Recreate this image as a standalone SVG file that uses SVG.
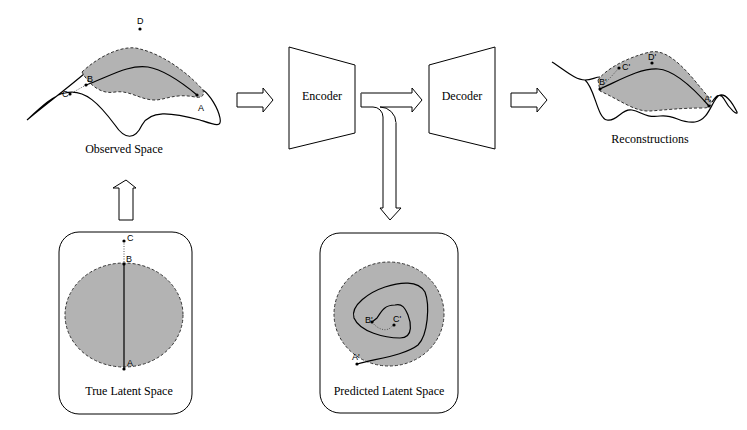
<svg xmlns="http://www.w3.org/2000/svg" width="747" height="430" viewBox="0 0 747 430">
<style>
.t{font-family:"Liberation Serif",serif;font-size:12px;fill:#000}
.s{font-family:"Liberation Sans",sans-serif;font-size:9px;fill:#000}
.ln{fill:none;stroke:#000;stroke-width:1.2}
.reg{fill:#b3b3b3;stroke:#333;stroke-width:1;stroke-dasharray:3,2}
.dot{fill:none;stroke:#555;stroke-width:1;stroke-dasharray:1,1.5}
.box{fill:#fff;stroke:#000;stroke-width:1}
.arr{fill:#fff;stroke:#000;stroke-width:1}
</style>
<rect width="747" height="430" fill="#fff"/>
<g id="observed">
<path class="ln" d="M27,120 C45,105 65,90 84,74 M27,120 C40,108 55,94 65,93 C85,88 100,105 115,125 C125,140 135,140 142,125 C150,110 170,112 200,120 C215,125 222,128 220,118 C218,108 210,95 203,90"/>
<path class="reg" d="M82,72 C100,55 125,44 140,49 C165,55 190,75 203,90 C205,97 200,98 195,97 C175,93 165,100 155,100 C140,100 130,90 115,92 C100,95 88,83 82,72 Z"/>
<path class="ln" d="M86,85 C110,76 130,64 148,67 C165,70 185,85 197,95"/>
<path class="dot" d="M86,85 L70,94"/>
<circle cx="86" cy="85" r="1.6"/><circle cx="70" cy="94" r="1.6"/><circle cx="197" cy="95" r="1.6"/><circle cx="140" cy="29" r="1.6"/>
<text class="s" x="87" y="82">B</text><text class="s" x="62" y="97">C</text><text class="s" x="198" y="111">A</text><text class="s" x="137" y="24">D</text>
<text class="t" x="124" y="153" text-anchor="middle">Observed Space</text>
</g>
<g id="reconstructions">
<path class="ln" d="M552,62 C565,70 575,80 585,80 C592,80 595,77 600,77 M585,80 C595,88 597,118 607,120 C617,122 622,108 632,110 C642,112 645,118 660,116 C675,114 680,124 695,122 C710,120 712,98 720,95 C727,93 735,108 737,112 C738,116 730,110 724,99 C720,92 716,96 712,102"/>
<path class="reg" d="M598,80 C605,70 625,58 650,52 C670,48 690,75 705,93 C715,103 712,108 703,108 C680,108 665,110 650,111 C635,112 620,100 600,91 Z"/>
<path class="ln" d="M600,89 C620,80 640,68 658,69 C675,70 695,90 709,106"/>
<path class="dot" d="M600,89 L619,68"/>
<circle cx="600" cy="89" r="1.6"/><circle cx="619" cy="68" r="1.6"/><circle cx="652" cy="63" r="1.6"/><circle cx="709" cy="106" r="1.6"/>
<text class="s" x="599" y="85">B'</text><text class="s" x="622" y="70">C'</text><text class="s" x="648" y="60">D'</text><text class="s" x="704" y="102">A'</text>
<text class="t" x="650" y="143" text-anchor="middle">Reconstructions</text>
</g>
<g id="true-latent">
<rect class="box" x="59" y="232" width="133" height="182" rx="20"/>
<ellipse class="reg" cx="124" cy="315" rx="59" ry="52"/>
<path class="ln" d="M124,264 V369"/>
<path class="dot" d="M124,241 V264"/>
<circle cx="124" cy="241" r="1.6"/><circle cx="124" cy="264" r="1.6"/><circle cx="124" cy="369" r="1.6"/>
<text class="s" x="127" y="241">C</text><text class="s" x="126" y="262">B</text><text class="s" x="127" y="366">A</text>
<text class="t" x="129" y="395" text-anchor="middle">True Latent Space</text>
</g>
<g id="predicted-latent">
<rect class="box" x="320" y="233" width="138" height="180" rx="20"/>
<ellipse class="reg" cx="389" cy="314" rx="55" ry="52"/>
<path class="ln" d="M357,364 C380,358 405,355 418,345 C428,335 430,305 425,292 C418,280 400,282 385,287 C370,292 350,305 354,318 C360,332 385,338 400,338 C415,338 410,320 408,315 C405,308 402,303 395,305 C385,305 382,310 377,318 L372,322"/>
<path class="dot" d="M372,322 C378,330 388,333 393,325"/>
<circle cx="357" cy="364" r="1.6"/><circle cx="372" cy="322" r="1.6"/><circle cx="394" cy="325" r="1.6"/>
<text class="s" x="365" y="323">B'</text><text class="s" x="393" y="322">C'</text><text class="s" x="352" y="360">A'</text>
<text class="t" x="389" y="395" text-anchor="middle">Predicted Latent Space</text>
</g>
<g id="encoder">
<path class="box" d="M289,47 L355,65 L355,133 L289,149 Z"/>
<text class="t" x="322" y="100" text-anchor="middle">Encoder</text>
</g>
<g id="decoder">
<path class="box" d="M429,65 L495,47 L495,149 L429,133 Z"/>
<text class="t" x="462" y="100" text-anchor="middle">Decoder</text>
</g>
<g id="connectors">
<path class="arr" d="M237,93 H263 V88 L273,100 L263,112 V107 H237 Z"/>
<path class="arr" d="M511,93 H537 V88 L547,100 L537,112 V107 H511 Z"/>
<path class="arr" d="M119,220 V188 H113 L126,180 L136,188 H133 V220 Z"/>
<path class="arr" d="M361,93 H412 V88 L422,100 L412,112 V107 H380 A16,16 0 0 1 396,123"/>
<path class="arr" d="M361,93 V107 H373 A10,10 0 0 1 383,117 V208 H380 L390,220 L401,208 H396 V123"/>
</g>
</svg>
